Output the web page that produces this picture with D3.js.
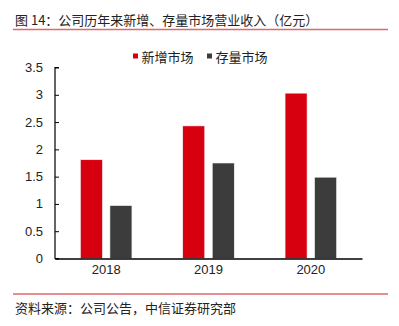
<!DOCTYPE html>
<html><head><meta charset="utf-8">
<script src="https://cdn.jsdelivr.net/npm/d3@7"></script>
<style>
body{margin:0;background:#fff;}
svg{display:block;font-family:"Liberation Sans",Arial,"Noto Sans CJK SC",sans-serif;}
</style></head>
<body>
<script>
const categories = ["2018","2019","2020"];
const seriesNames = ["新增市场","存量市场"];
const newMarket = [1.81, 2.43, 3.03];
const stockMarket = [0.97, 1.75, 1.49];
const yTicks = [0,0.5,1,1.5,2,2.5,3,3.5];
const yTickLabels = ["0","0.5","1","1.5","2","2.5","3","3.5"];
const colors = ["#d7000f","#3c3c3c"];
const title = "图 14：公司历年来新增、存量市场营业收入（亿元）";
const source = "资料来源：公司公告，中信证券研究部";

const W = 399, H = 326;
const svg = d3.select("body").append("svg").attr("width",W).attr("height",H);
const cjk = '"Noto Sans CJK SC","Liberation Sans",sans-serif';

svg.append("text").attr("x",15).attr("y",25).attr("font-size",13)
  .attr("font-family",cjk).attr("fill","#222").text(title);
svg.append("line").attr("x1",13).attr("x2",388).attr("y1",29.5).attr("y2",29.5)
  .attr("stroke","#e06868").attr("stroke-width",1.3);

const x0 = 55, x1 = 362, yTop = 67.5, yBot = 258.5;
const x = d3.scaleBand().domain(categories).range([x0,x1]);
const y = d3.scaleLinear().domain([0,3.5]).range([yBot,yTop]);
const sub = d3.scaleBand().domain(seriesNames).range([0,x.bandwidth()]).paddingInner(0.254).paddingOuter(0.86);

const data = categories.map((c,i)=>({cat:c, vals:[newMarket[i], stockMarket[i]]}));
const g = svg.append("g");
data.forEach(d=>{
  d.vals.forEach((v,j)=>{
    g.append("rect")
      .attr("x", x(d.cat)+sub(seriesNames[j]))
      .attr("width", sub.bandwidth())
      .attr("y", y(v))
      .attr("height", y(0)-y(v))
      .attr("fill", colors[j])
      .attr("stroke","#f4f4f4").attr("stroke-width",0.6);
  });
});

// y axis (ticks inward)
const yAxis = d3.axisRight(y).tickValues(yTicks).tickSize(4).tickFormat("");
const ya = svg.append("g").attr("transform",`translate(${x0},0)`).call(yAxis);
ya.select(".domain").attr("stroke","#000").attr("stroke-width",1.2).attr("d",`M4,${yTop}H0V${yBot}H4`);
ya.selectAll(".tick line").attr("stroke","#000").attr("stroke-width",1);
svg.append("g").selectAll("text").data(yTicks).join("text")
  .attr("x",43).attr("y",d=>y(d)+4.5).attr("text-anchor","end")
  .attr("font-size",13).attr("fill","#222").text((d,i)=>yTickLabels[i]);

// x axis
const xAxis = d3.axisBottom(x).tickSize(0).tickPadding(6);
const xa = svg.append("g").attr("transform",`translate(0,${yBot})`).call(xAxis);
xa.select(".domain").attr("stroke","#000").attr("stroke-width",1.4);
xa.selectAll(".tick text").attr("font-size",13).attr("fill","#222")
  .attr("font-family",'"Liberation Sans",Arial,sans-serif');

// legend
const leg = svg.append("g");
const legX = [133, 207];
seriesNames.forEach((n,j)=>{
  leg.append("rect").attr("x",legX[j]).attr("y",53.5).attr("width",5).attr("height",5).attr("fill",colors[j]);
  leg.append("text").attr("x",legX[j]+8.5).attr("y",61.5).attr("font-size",13)
    .attr("font-family",cjk).attr("fill","#222").text(n);
});

svg.append("line").attr("x1",13).attr("x2",388).attr("y1",294).attr("y2",294)
  .attr("stroke","#e06868").attr("stroke-width",1.3);
svg.append("text").attr("x",15).attr("y",312.5).attr("font-size",13)
  .attr("font-family",cjk).attr("fill","#222").text(source);
</script>
</body></html>
